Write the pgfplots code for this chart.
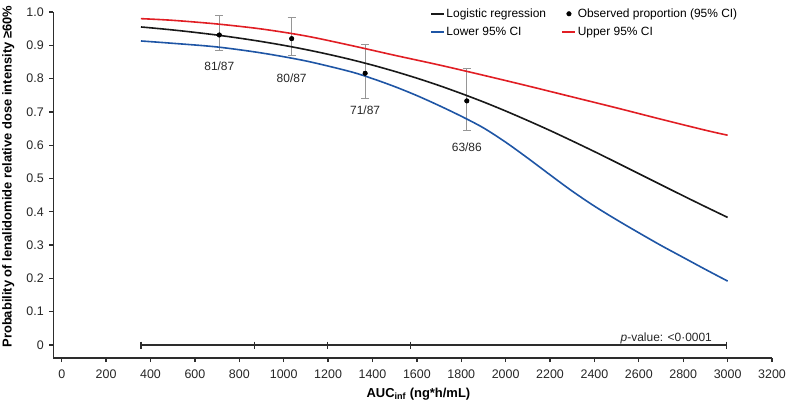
\documentclass[border=0pt]{standalone}
\usepackage{pgfplots}
\pgfplotsset{compat=1.18}
\usepackage{fontspec}
\setmainfont{Liberation Sans}
\definecolor{cred}{RGB}{225,30,36}
\definecolor{cblue}{RGB}{30,85,165}
\definecolor{cgray}{RGB}{150,150,150}
\definecolor{caxis}{RGB}{45,45,45}
\begin{document}
\begin{tikzpicture}
\begin{axis}[
  name=ax,
  scale only axis, width=718.7bp, height=346bp,
  xmin=-38, xmax=3200, ymin=-0.039, ymax=1.0,
  axis lines=left, axis line style={-, caxis, line width=1.3bp},
  tick style={caxis, line width=1.3bp},
  tick align=outside, major tick length=4bp,
  xtick={0,200,...,3200},
  ytick={0,0.1,0.2,0.3,0.4,0.5,0.6,0.7,0.8,0.9,1.0},
  yticklabels={0,0.1,0.2,0.3,0.4,0.5,0.6,0.7,0.8,0.9,1.0},
  /pgf/number format/1000 sep={},
  /pgf/number format/assume math mode=true,
  ticklabel style={font=\fontsize{12.5}{14}\selectfont, text=black!85},
  xticklabel style={yshift=-4bp},
  yticklabel style={xshift=-2bp},
  xlabel={AUC\textsubscript{inf} (ng*h/mL)},
  xlabel style={font=\bfseries\fontsize{13}{15}\selectfont, at={([yshift=-36bp]rel axis cs:0.508,0)}, anchor=center},
  ylabel={Probability of lenalidomide relative dose intensity ≥60\%},
  ylabel style={font=\bfseries\fontsize{13}{15}\selectfont, at={([xshift=-45bp]rel axis cs:0,0.524)}, anchor=center},
  clip=false,
  legend columns=2,
  legend style={at={(axis cs:1660,1.015)}, anchor=north west, draw=none, fill=none,
    font=\fontsize{12}{14}\selectfont, inner sep=0pt, row sep=5bp,
    nodes={inner sep=1.5bp}, cells={anchor=west},
    /tikz/every even column/.append style={column sep=14bp}},
  legend image code/.code={\draw[mark repeat=2,mark phase=2,#1] plot coordinates {(0bp,0bp) (6.5bp,0bp) (13bp,0bp)};},
]
% error bars (behind)
\addplot[only marks, mark=none, forget plot,
  error bars/.cd, y dir=both, y explicit,
  error bar style={draw=cgray, line width=1bp},
  error mark options={rotate=90, draw=cgray, mark size=4bp, line width=1bp}]
  table[x=x, y=y, y error plus=ep, y error minus=em] {
x y ep em
710 0.931 0.057 0.047
1036 0.920 0.063 0.052
1367 0.816 0.087 0.076
1825 0.733 0.097 0.089
};
% upper 95% CI
\addplot[cred, line width=1.6bp, smooth, forget plot] coordinates {
(357,0.980)(500,0.975)(700,0.964)(900,0.949)(1100,0.928)(1300,0.900)(1500,0.870)
(1700,0.841)(1900,0.810)(2100,0.778)(2300,0.745)(2500,0.712)(2700,0.678)(2900,0.645)(3000,0.630)};
% lower 95% CI
\addplot[cblue, line width=1.6bp, smooth, forget plot] coordinates {
(357,0.913)(500,0.906)(700,0.895)(900,0.877)(1100,0.853)(1300,0.821)(1400,0.800)(1500,0.776)
(1600,0.749)(1700,0.719)(1800,0.687)(1900,0.652)(2000,0.609)(2100,0.561)(2200,0.511)(2300,0.462)
(2400,0.417)(2500,0.376)(2600,0.337)(2700,0.299)(2800,0.263)(2900,0.227)(3000,0.192)};
% logistic regression
\addplot[black!90, line width=1.6bp, smooth, forget plot] coordinates {
(357,0.9550)(400,0.9525)(500,0.9461)(600,0.9388)(700,0.9307)(800,0.9215)(900,0.9113)
(1000,0.8999)(1100,0.8872)(1200,0.8731)(1300,0.8576)(1400,0.8405)(1500,0.8217)
(1600,0.8013)(1700,0.7792)(1800,0.7553)(1900,0.7299)(2000,0.7027)(2100,0.6739)
(2200,0.6441)(2300,0.6128)(2400,0.5808)(2500,0.5479)(2600,0.5145)(2700,0.4812)
(2800,0.4480)(2900,0.4153)(3000,0.3832)};
% observed proportions
\addplot[only marks, mark=*, mark size=2.3bp, black, forget plot] coordinates {
(710,0.931)(1036,0.920)(1367,0.816)(1825,0.733)};
% quartile bar
\addplot[caxis, line width=1.3bp, mark=|, mark size=3.5bp, mark options={solid, line width=1.3bp}, forget plot]
  coordinates {(357,0)(868,0)(1196,0)(1570,0)(2995,0)};
% labels
\node[font=\fontsize{12}{14}\selectfont, text=black!85] at (axis cs:710,0.837) {81/87};
\node[font=\fontsize{12}{14}\selectfont, text=black!85] at (axis cs:1036,0.800) {80/87};
\node[font=\fontsize{12}{14}\selectfont, text=black!85] at (axis cs:1367,0.704) {71/87};
\node[font=\fontsize{12}{14}\selectfont, text=black!85] at (axis cs:1825,0.595) {63/86};
\node[font=\fontsize{12}{14}\selectfont, text=black!85, anchor=base east] at (axis cs:2945,0.012) {\textit{p}-value: <0·0001};
% legend
\addlegendimage{black!90, line width=1.6bp}
\addlegendentry{Logistic regression}
\addlegendimage{only marks, mark=*, mark size=2.3bp, black}
\addlegendentry{Observed proportion (95\% CI)}
\addlegendimage{cblue, line width=1.6bp}
\addlegendentry{Lower 95\% CI}
\addlegendimage{cred, line width=1.6bp}
\addlegendentry{Upper 95\% CI}
\end{axis}
\pgfresetboundingbox
\path ([xshift=-53.3bp,yshift=-47bp]ax.south west) rectangle ([xshift=15bp,yshift=12bp]ax.north east);
\end{tikzpicture}
\end{document}
